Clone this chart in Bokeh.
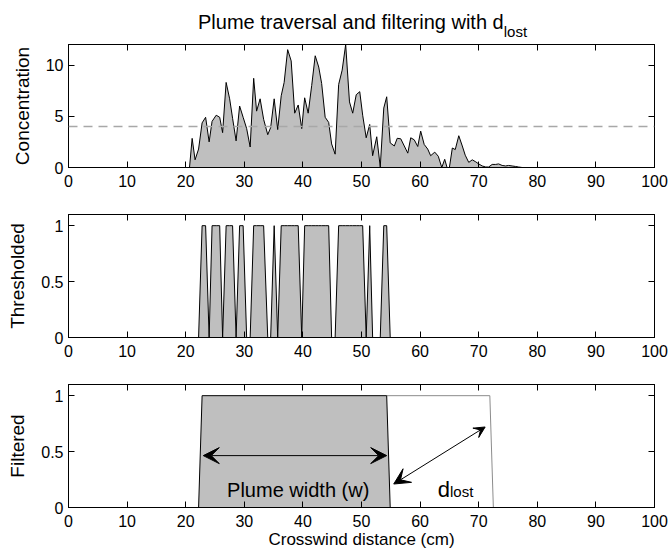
from bokeh.plotting import figure
from bokeh.layouts import column
from bokeh.models import (Range1d, LinearAxis, FixedTicker, Label, Arrow, VeeHead,
                          CustomJSTickFormatter, Span)
from bokeh.core.properties import value
from bokeh.embed import file_html
from bokeh.resources import INLINE

# ---------------- data ----------------
distance = [0, 20.65, 21.1, 21.6, 22.2, 22.8, 23.4, 24.0, 24.5, 25.2, 25.8, 26.3, 26.9, 27.5,
            28.0, 28.6, 29.2, 29.8, 30.4, 31.0, 31.6, 32.1, 32.7, 33.3, 34.0, 34.5, 35.1,
            35.7, 36.3, 36.8, 37.4, 38.0, 38.6, 39.2, 39.8, 40.3, 40.9, 41.5, 42.1, 42.7,
            43.2, 43.8, 44.4, 44.9, 45.5, 46.1, 46.7, 47.3, 47.95, 48.5, 49.1, 49.7, 50.2,
            50.8, 51.4, 51.9, 52.6, 53.2, 53.8, 54.3, 54.9, 55.6, 56.1, 56.7, 57.3, 57.9,
            58.4, 59.0, 59.6, 60.1, 60.7, 61.3, 61.8, 62.5, 63.1, 63.7, 64.2, 64.6, 65.0,
            65.5, 66.0, 66.6, 67.2, 67.7, 68.3, 68.9, 69.5, 70.0, 70.6, 71.2, 71.7, 72.3,
            72.9, 73.4, 74.0, 74.6, 75.1, 75.7, 76.3, 76.8, 77.4, 100]
concentration = [0, 0, 2.84, 0.75, 1.8, 4.35, 4.9, 2.5, 4.5, 5.1, 4.9, 3.4, 8.3, 6.7,
                 4.8, 2.6, 6.0, 4.9, 3.8, 2.0, 8.7, 5.5, 6.7, 4.7, 3.2, 3.9, 6.7,
                 3.7, 7.0, 8.3, 11.5, 10.4, 5.3, 6.1, 3.8, 6.8, 5.3, 8.0, 10.9, 9.8,
                 8.2, 4.9, 4.4, 2.3, 1.3, 8.1, 9.5, 12.0, 6.4, 5.3, 7.1, 7.4, 5.1,
                 2.9, 4.2, 1.15, 3.0, 0.05, 5.8, 6.9, 2.4, 2.1, 2.85, 2.8, 2.1, 1.4,
                 2.9, 2.7, 2.05, 3.55, 2.25, 1.8, 1.15, 1.5, 1.1, 0.0, 0.8, 0.0, 0.0,
                 1.9, 1.75, 3.1, 2.1, 1.2, 0.5, 0.75, 0.55, 0.35, 0.15, 0.05, 0.05, 0.3,
                 0.3, 0.35, 0.2, 0.15, 0.2, 0.15, 0.1, 0.05, 0.0, 0.0]
threshold = 4.0
d_lost = 17.6

x_ticks = [0, 10, 20, 30, 40, 50, 60, 70, 80, 90, 100]
conc_ticks = [0, 5, 10]
unit_ticks = [0, 0.5, 1]

title_main = "Plume traversal and filtering with d"
title_sub = "lost"

# derived series
thresholded = [1.0 if c > threshold else 0.0 for c in concentration]
on_idx = [i for i, t in enumerate(thresholded) if t > 0]
i0, i1 = on_idx[0], on_idx[-1]
filt_x = [distance[0], distance[i0 - 1], distance[i0], distance[i1], distance[i1 + 1], distance[-1]]
filt_y = [0, 0, 1, 1, 0, 0]
lost_x = [distance[i1], distance[i1] + d_lost, distance[i1 + 1] + d_lost]
lost_y = [1, 1, 0]

# annotation anchors (data units)
width_arrow = dict(x0=23.0, x1=54.3, y=0.464)
width_text = dict(x=39.2, y=0.156)
lost_arrow = dict(x0=55.5, y0=0.21, x1=71.1, y1=0.72)
lost_text = dict(x=65.1, y=0.165)

FONT = "Liberation Sans"
FILL = "#bfbfbf"


def make_fig(height, top, bottom, y_end, yticks, ylabel, xlabel=None):
    p = figure(width=669, height=height, x_range=Range1d(0, 100), y_range=Range1d(0, y_end),
               output_backend="svg", toolbar_location=None,
               min_border_left=68, min_border_right=15,
               min_border_top=top, min_border_bottom=bottom)
    p.grid.visible = False
    p.outline_line_color = "black"
    p.outline_line_width = 1
    p.outline_line_alpha = 1
    p.background_fill_color = "white"
    p.border_fill_color = "white"

    for ax, ticks in ((p.xaxis[0], x_ticks), (p.yaxis[0], yticks)):
        ax.ticker = FixedTicker(ticks=ticks)
        ax.major_tick_in = 6
        ax.major_tick_out = 0
        ax.minor_tick_line_color = None
        ax.axis_line_color = "black"
        ax.major_tick_line_color = "black"
        ax.major_label_text_font = FONT
        ax.major_label_text_font_size = "16px"
        ax.major_label_text_color = "black"
        ax.axis_label_text_font = FONT
        ax.axis_label_text_font_style = "normal"
        ax.axis_label_text_color = "black"
    p.xaxis[0].major_label_standoff = 7
    p.yaxis[0].major_label_standoff = 5
    p.yaxis[0].axis_label = ylabel
    p.yaxis[0].axis_label_text_font_size = "19px"
    p.yaxis[0].axis_label_standoff = 10
    if xlabel:
        p.xaxis[0].axis_label = xlabel
        p.xaxis[0].axis_label_text_font_size = "17px"
        p.xaxis[0].axis_label_standoff = 0

    blank = CustomJSTickFormatter(code="return ''")
    for loc, ticks in (("above", x_ticks), ("right", yticks)):
        ax = LinearAxis(ticker=FixedTicker(ticks=ticks), formatter=blank)
        ax.major_tick_in = 6
        ax.major_tick_out = 0
        ax.minor_tick_line_color = None
        ax.major_label_text_font_size = "1px"
        ax.major_label_standoff = 0
        ax.axis_line_color = "black"
        ax.major_tick_line_color = "black"
        p.add_layout(ax, loc)
    return p


# ---------------- title strip ----------------
pt = figure(width=669, height=40, x_range=Range1d(0, 100), y_range=Range1d(0, 40),
            output_backend="svg", toolbar_location=None, x_axis_type=None, y_axis_type=None,
            min_border_left=68, min_border_right=15, min_border_top=0, min_border_bottom=0)
pt.grid.visible = False
pt.outline_line_color = None
pt.text(x=[74.27], y=[18.3], text=[title_main], text_align="right",
        text_baseline="alphabetic", text_font=value(FONT), text_font_size="20px",
        text_color="black")
pt.text(x=[74.27], y=[9.3], text=[title_sub], text_align="left",
        text_baseline="alphabetic", text_font=value(FONT), text_font_size="15px",
        text_color="black")

# ---------------- panel 1 ----------------
p1 = make_fig(157, 4, 30, 12, conc_ticks, "Concentration")
p1.varea(x=distance, y1=0, y2=concentration, fill_color=FILL)
p1.line(distance, concentration, line_color="black", line_width=1)
p1.add_layout(Span(location=threshold, dimension="width", line_color="#a8a8a8",
                   line_width=1.5, line_dash="9 6"))

# ---------------- panel 2 ----------------
p2 = make_fig(170, 17, 30, 1.1, unit_ticks, "Thresholded")
p2.varea(x=distance, y1=0, y2=thresholded, fill_color=FILL)
p2.line(distance, thresholded, line_color="black", line_width=1)

# ---------------- panel 3 ----------------
p3 = make_fig(187, 17, 47, 1.1, unit_ticks, "Filtered", "Crosswind distance (cm)")
p3.line(lost_x, lost_y, line_color="#8c8c8c", line_width=1)
p3.varea(x=filt_x, y1=0, y2=filt_y, fill_color=FILL)
p3.line(filt_x, filt_y, line_color="black", line_width=1)

p3.add_layout(Arrow(x_start=width_arrow["x0"], y_start=width_arrow["y"],
                    x_end=width_arrow["x1"], y_end=width_arrow["y"],
                    start=VeeHead(size=16, fill_color="black", line_color="black"),
                    end=VeeHead(size=16, fill_color="black", line_color="black"),
                    line_color="black", line_width=1))
p3.add_layout(Label(x=width_text["x"], y=width_text["y"], text="Plume width (w)",
                    text_align="center", text_baseline="alphabetic",
                    text_font=FONT, text_font_size="20px", text_color="black"))
p3.add_layout(Arrow(x_start=lost_arrow["x0"], y_start=lost_arrow["y0"],
                    x_end=lost_arrow["x1"], y_end=lost_arrow["y1"],
                    start=VeeHead(size=16, fill_color="black", line_color="black"),
                    end=VeeHead(size=11, fill_color="black", line_color="black"),
                    line_color="black", line_width=1))
p3.add_layout(Label(x=lost_text["x"], y=lost_text["y"], text="d", text_align="right",
                    text_baseline="alphabetic",
                    text_font=FONT, text_font_size="22px", text_color="black"))
p3.add_layout(Label(x=lost_text["x"], y=lost_text["y"] - 0.02, text="lost", text_align="left",
                    text_baseline="alphabetic",
                    text_font=FONT, text_font_size="15px", text_color="black"))

layout = column(pt, p1, p2, p3, spacing=0)
open("out.html", "w").write(file_html(layout, INLINE))
